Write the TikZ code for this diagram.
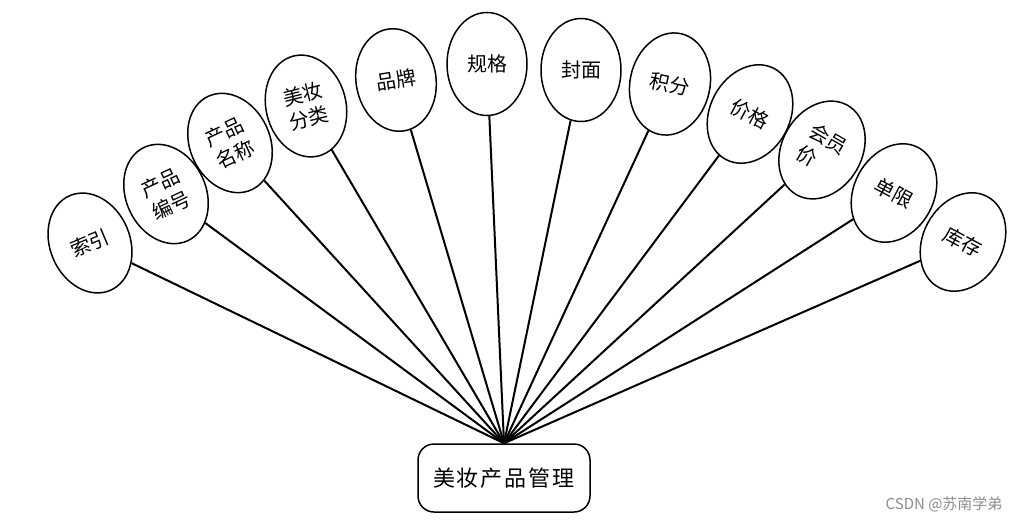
\documentclass[tikz,border=0pt]{standalone}
\usepackage{fontspec}
\usetikzlibrary{shapes.geometric}
\newfontfamily\cjk{Noto Sans CJK SC}
\tikzset{
  attr/.style={ellipse, draw=black, line width=1.5pt, fill=white, inner sep=0pt,
    minimum width=80pt, minimum height=103pt, font=\cjk\fontsize{20}{25}\selectfont, align=center},
  mainbox/.style={draw=black, line width=1.5pt, rounded corners=16pt, fill=white,
    minimum width=172pt, minimum height=68pt, font=\cjk\fontsize{22}{26}\selectfont},
  link/.style={line width=2pt, black},
  mark2/.style={font=\fontspec{Noto Sans CJK SC}\fontsize{15}{17}\selectfont, text=black!45}
}
\begin{document}
\begin{tikzpicture}[x=1pt,y=-1pt]
\useasboundingbox (0,0) rectangle (1018,522);
\node[mainbox] (m) at (504,478) {美\hspace{2pt}妆\hspace{2pt}产\hspace{2pt}品\hspace{2pt}管\hspace{2pt}理};
\coordinate (hub) at (m.north);
\node[attr, rotate=23] (e1) at (90,243) {索引};
\node[attr, rotate=25] (e2) at (166,194) {产品\\编号};
\node[attr, rotate=25] (e3) at (230,143) {产品\\名称};
\node[attr, rotate=14] (e4) at (306,106) {美妆\\分类};
\node[attr, rotate=9] (e5) at (396,80) {品牌};
\node[attr, rotate=0] (e6) at (487,64) {规格};
\node[attr, rotate=0] (e7) at (581,70) {封面};
\node[attr, rotate=-12] (e8) at (670,84) {积分};
\node[attr, rotate=-28] (e9) at (750,114) {价格};
\node[attr, rotate=-30, align=left] (e10) at (822,150) {会员\\价};
\node[attr, rotate=-28] (e11) at (894,193) {单限};
\node[attr, rotate=-28] (e12) at (963,242) {库存};
\foreach \i in {1,...,12} { \draw[link] (hub) -- (e\i); }
\node[mark2, anchor=east] (wm) at (1006,504) {CSDN @苏南学弟};
\end{tikzpicture}
\end{document}
